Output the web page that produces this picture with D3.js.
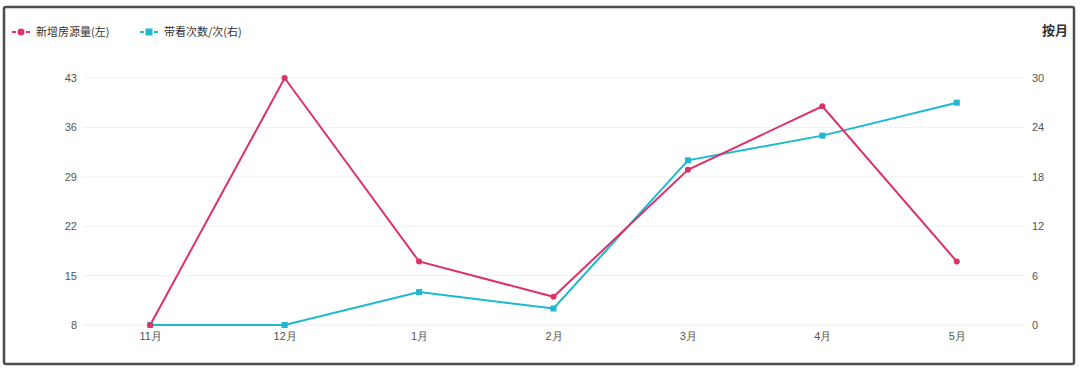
<!DOCTYPE html>
<html>
<head>
<meta charset="utf-8">
<script src="https://cdn.jsdelivr.net/npm/d3@7"></script>
<style>
  body { margin: 0; background: #fff; }
  svg { display: block; font-family: "Noto Sans CJK SC", "Noto Sans", sans-serif; }
</style>
</head>
<body>
<div id="chart"></div>
<script>
// data
var months = ["11月", "12月", "1月", "2月", "3月", "4月", "5月"];
var newListings = [8, 43, 17, 12, 30, 39, 17];   // 新增房源量(左)
var viewings = [0, 0, 4, 2, 20, 23, 27];         // 带看次数/次(右)
var leftTicks = [8, 15, 22, 29, 36, 43];
var rightTicks = [0, 6, 12, 18, 24, 30];

var width = 1080, height = 369;
var pink = "#dc3269", cyan = "#1db9cf";

let svg = d3.select("#chart")
     .append("svg")
     .attr("width", width)
     .attr("height", height);

// outer frame
svg.append("rect")
     .attr("x", 4).attr("y", 7)
     .attr("width", 1070).attr("height", 357)
     .attr("rx", 2)
     .attr("fill", "#fff")
     .attr("stroke", "#4d4d4d")
     .attr("stroke-width", 2.5);

// scales
let x = d3.scalePoint()
     .domain(months)
     .range([83, 1024])
     .padding(0.5);
let yL = d3.scaleLinear().domain([8, 43]).range([325, 78]);
let yR = d3.scaleLinear().domain([0, 30]).range([325, 78]);

// grid lines
svg.append("g")
     .selectAll("line")
     .data(leftTicks.slice(1))
     .enter()
     .append("line")
       .attr("x1", 83).attr("x2", 1024)
       .attr("y1", function(d){ return yL(d); })
       .attr("y2", function(d){ return yL(d); })
       .attr("stroke", "#f1f1f1")
       .attr("stroke-width", 1);

// bottom axis
let xAxis = svg.append("g")
     .attr("transform", "translate(0,325)")
     .call(d3.axisBottom(x).tickSize(0).tickPadding(7));
xAxis.select(".domain").attr("stroke", "#ececec").attr("d", "M83,0H1024");
xAxis.selectAll("text").attr("fill", "#555").style("font-size", "11px");

// left axis
let leftAxis = svg.append("g")
     .attr("transform", "translate(77,0)")
     .call(d3.axisLeft(yL).tickValues(leftTicks).tickSize(0).tickPadding(0));
leftAxis.select(".domain").remove();
leftAxis.selectAll("text").attr("fill", "#555").style("font-size", "11px");

// right axis
let rightAxis = svg.append("g")
     .attr("transform", "translate(1032,0)")
     .call(d3.axisRight(yR).tickValues(rightTicks).tickSize(0).tickPadding(0));
rightAxis.select(".domain").remove();
rightAxis.selectAll("text").attr("fill", "#555").style("font-size", "11px");

// lines
let lineL = d3.line()
     .x(function(d, i){ return x(months[i]); })
     .y(function(d){ return yL(d); });
let lineR = d3.line()
     .x(function(d, i){ return x(months[i]); })
     .y(function(d){ return yR(d); });

svg.append("path")
     .datum(viewings)
     .attr("d", lineR)
     .attr("fill", "none")
     .attr("stroke", cyan)
     .attr("stroke-width", 2);

svg.append("path")
     .datum(newListings)
     .attr("d", lineL)
     .attr("fill", "none")
     .attr("stroke", pink)
     .attr("stroke-width", 2);

svg.selectAll(".sq")
     .data(viewings)
     .enter()
     .append("rect")
       .attr("class", "sq")
       .attr("x", function(d, i){ return x(months[i]) - 3; })
       .attr("y", function(d){ return yR(d) - 3; })
       .attr("width", 6).attr("height", 6)
       .attr("fill", cyan);

svg.selectAll(".dot")
     .data(newListings)
     .enter()
     .append("circle")
       .attr("class", "dot")
       .attr("cx", function(d, i){ return x(months[i]); })
       .attr("cy", function(d){ return yL(d); })
       .attr("r", 3)
       .attr("fill", pink);

// legend (short dash - marker - short dash)
let leg1 = svg.append("g").attr("transform", "translate(12,32)");
leg1.append("line").attr("x1", 0).attr("x2", 18).attr("stroke", pink).attr("stroke-width", 2).attr("stroke-dasharray", "4,10");
leg1.append("circle").attr("cx", 9).attr("r", 3.5).attr("fill", pink);
leg1.append("text").attr("x", 24).attr("y", 4).attr("fill", "#333").style("font-size", "11px").text("新增房源量(左)");

let leg2 = svg.append("g").attr("transform", "translate(140,32)");
leg2.append("line").attr("x1", 0).attr("x2", 18).attr("stroke", cyan).attr("stroke-width", 2).attr("stroke-dasharray", "4,10");
leg2.append("rect").attr("x", 5.5).attr("y", -3.5).attr("width", 7).attr("height", 7).attr("fill", cyan);
leg2.append("text").attr("x", 24).attr("y", 4).attr("fill", "#333").style("font-size", "11px").text("带看次数/次(右)");

svg.append("text")
     .attr("x", 1068).attr("y", 35)
     .attr("text-anchor", "end")
     .attr("fill", "#333")
     .style("font-size", "13px")
     .style("font-weight", "bold")
     .text("按月");
</script>
</body>
</html>
